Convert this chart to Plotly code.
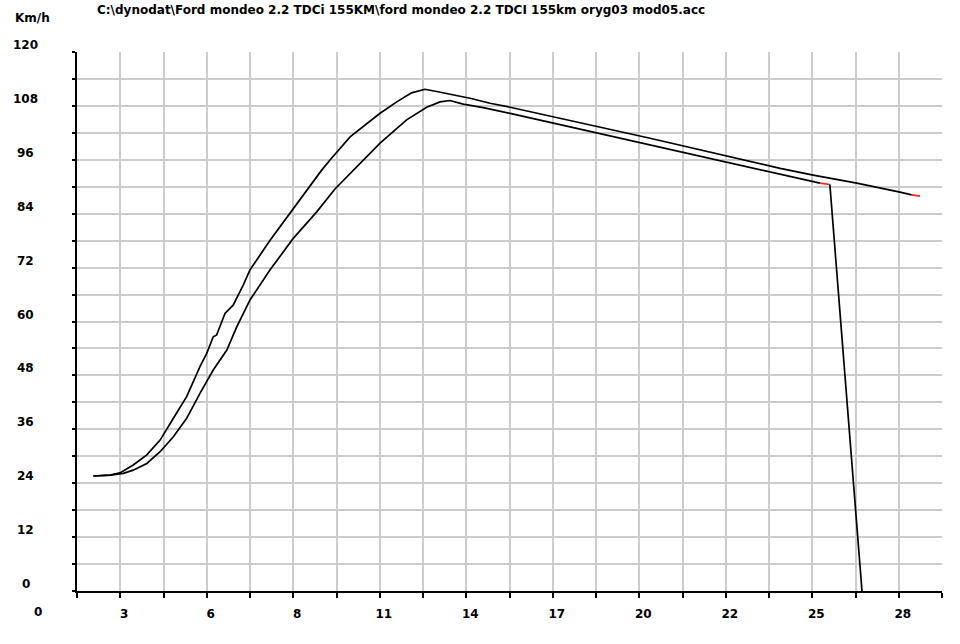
import plotly.graph_objects as go

# ---- data ----
time_a = [1.93, 2.47, 2.79, 3.22, 3.66, 4.09, 4.52, 4.95, 5.38, 5.60, 5.81, 5.92, 6.19, 6.46,
          6.78, 7.00, 7.65, 8.29, 8.94, 9.32, 9.59, 10.24, 11.21, 11.75, 12.23, 12.66, 13.04,
          13.47, 14.12, 14.77, 15.42, 19.95, 24.16, 25.23, 26.64, 28.04, 28.42]
speed_a = [25.6, 25.8, 26.3, 28.05, 30.3, 33.6, 38.45, 43.26, 49.94, 52.92, 56.6, 57.0, 61.8, 63.7,
           68.1, 71.5, 78.1, 84.1, 90.0, 93.7, 95.95, 101.1, 106.35, 108.9, 110.9, 111.7, 111.2,
           110.6, 109.7, 108.6, 107.7, 100.8, 94.1, 92.6, 90.8, 88.8, 88.2]
time_a_end = [28.42, 28.69]
speed_a_end = [88.2, 87.9]

time_b = [1.93, 2.47, 2.90, 3.22, 3.66, 4.09, 4.52, 4.95, 5.38, 5.81, 6.25, 6.57, 7.00, 7.65,
          8.40, 9.16, 9.75, 10.34, 11.21, 12.07, 12.72, 13.15, 13.47, 13.90, 14.55, 15.42,
          19.95, 24.16, 25.45]
speed_b = [25.6, 25.8, 26.2, 26.9, 28.4, 31.0, 34.35, 38.45, 44.0, 49.2, 53.65, 58.8, 64.8, 71.5,
           78.5, 84.4, 89.5, 93.7, 99.7, 104.9, 107.7, 108.9, 109.2, 108.4, 107.6, 106.35,
           99.3, 92.8, 90.8]
time_b_end = [25.45, 25.77]
speed_b_end = [90.8, 90.5]
time_b_drop = [25.77, 26.42, 26.81]
speed_b_drop = [90.5, 33.6, 0.0]

x_grid = [1.4, 2.8, 4.2, 5.6, 7.0, 8.4, 9.8, 11.2, 12.6, 14.0, 15.4, 16.8, 18.2, 19.6, 21.0,
          22.4, 23.8, 25.2, 26.6, 28.0, 29.4]
x_grid_text = ["", "3", "", "6", "", "8", "", "11", "", "14", "", "17", "", "20", "",
               "22", "", "25", "", "28", ""]
x_zero_label = "0"
y_grid = [0, 6, 12, 18, 24, 30, 36, 42, 48, 54, 60, 66, 72, 78, 84, 90, 96, 102, 108, 114, 120]
y_labels = [0, 12, 24, 36, 48, 60, 72, 84, 96, 108, 120]

title_text = "C:\\dynodat\\Ford mondeo 2.2 TDCi 155KM\\ford mondeo 2.2 TDCI 155km oryg03 mod05.acc"
y_unit = "Km/h"

FONT = "DejaVu Sans"
fnt = dict(family=FONT, size=12, color="black")

fig = go.Figure()
line_black = dict(color="black", width=1.7)
line_red = dict(color="#ff2020", width=1.7)
fig.add_trace(go.Scatter(x=time_a, y=speed_a, mode="lines", line=line_black, hoverinfo="skip"))
fig.add_trace(go.Scatter(x=time_a_end, y=speed_a_end, mode="lines", line=line_red, hoverinfo="skip"))
fig.add_trace(go.Scatter(x=time_b, y=speed_b, mode="lines", line=line_black, hoverinfo="skip"))
fig.add_trace(go.Scatter(x=time_b_end, y=speed_b_end, mode="lines", line=line_red, hoverinfo="skip"))
fig.add_trace(go.Scatter(x=time_b_drop, y=speed_b_drop, mode="lines", line=line_black,
                         hoverinfo="skip", cliponaxis=False))

annotations = []
for v in y_labels:
    annotations.append(dict(x=-0.059, xref="paper", y=v, yref="y", yshift=7,
                            text="<b>%d</b>" % v, showarrow=False, xanchor="center",
                            yanchor="middle", font=fnt))
annotations.append(dict(x=-0.05, xref="paper", xshift=4, y=0, yref="paper", yshift=-21,
                        text="<b>%s</b>" % x_zero_label, showarrow=False, xanchor="center",
                        yanchor="middle", font=fnt))
annotations.append(dict(x=-0.052, xref="paper", y=1.0, yref="paper", yshift=34,
                        text="<b>%s</b>" % y_unit, showarrow=False, xanchor="center",
                        yanchor="middle", font=fnt))
annotations.append(dict(x=0.0208, xref="paper", xanchor="left", y=1.0, yref="paper",
                        yshift=42, text="<b>%s</b>" % title_text, showarrow=False,
                        yanchor="middle", font=fnt))

fig.update_layout(
    width=960, height=644,
    margin=dict(l=77, r=18, t=52, b=53),
    paper_bgcolor="white", plot_bgcolor="white",
    showlegend=False,
    annotations=annotations,
    xaxis=dict(range=[1.4, 29.4], tickmode="array", tickvals=x_grid, ticktext=x_grid_text,
               showgrid=True, gridcolor="#cccccc", gridwidth=1.5, zeroline=False,
               showline=True, linecolor="black", linewidth=2,
               ticks="outside", ticklen=5, tickwidth=1.5, tickcolor="black",
               ticklabelshift=4, ticklabelstandoff=6,
               tickfont=dict(family=FONT, size=12, color="black", weight="bold")),
    yaxis=dict(range=[0, 120], tickmode="array", tickvals=y_grid, showticklabels=False,
               showgrid=True, gridcolor="#cccccc", gridwidth=1.5, zeroline=False,
               showline=True, linecolor="black", linewidth=2,
               ticks="outside", ticklen=3, tickwidth=1.5, tickcolor="black"),
)

# remove the browser's default 8px body margin so the figure sits at the window origin
fig.write_html("out.html", config={"displayModeBar": False},
               post_script="document.body.style.margin='0px';")
